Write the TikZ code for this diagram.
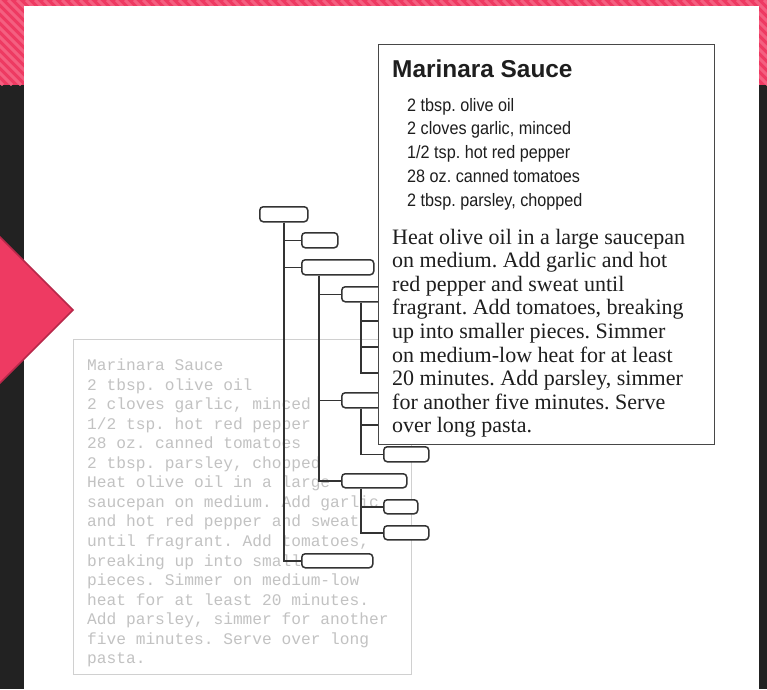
\documentclass[tikz,border=0pt]{standalone}
\usepackage{fontspec}
\setmainfont{Liberation Serif}
\newfontfamily\titlefont{Liberation Sans}
\newfontfamily\narrowfont[FakeStretch=0.9]{Liberation Sans}
\newfontfamily\greymono{Liberation Mono}
\usetikzlibrary{calc}
\definecolor{bandpink}{HTML}{EE3A62}
\definecolor{stripepink}{HTML}{F45F80}
\definecolor{darkbg}{HTML}{222222}
\definecolor{diamondedge}{HTML}{B8284A}
\definecolor{treecol}{HTML}{333333}
\definecolor{ghost}{HTML}{C2C2C2}
\definecolor{ghostedge}{HTML}{D0D0D0}
\definecolor{inkcol}{HTML}{1E1E1E}
\frenchspacing
\begin{document}
\frenchspacing
\begin{tikzpicture}[x=1pt,y=-1pt,
  tbox/.style={draw=treecol,line width=1.5pt,rounded corners=3.5pt,fill=white,inner sep=0pt,anchor=north west},
  tline/.style={draw=treecol,line width=1.5pt},
  monoline/.style={anchor=base west,inner sep=0pt,text=ghost,font=\greymono\frenchspacing\fontsize{16.2}{18}\selectfont},
  ingline/.style={anchor=base west,inner sep=0pt,text=inkcol,font=\narrowfont\frenchspacing\fontsize{18}{20}\selectfont},
  paraline/.style={anchor=base west,inner sep=0pt,text=inkcol,font=\frenchspacing\fontsize{22}{24}\selectfont},
]
\useasboundingbox (0,0) rectangle (767,689);
\clip (0,0) rectangle (767,689);
% background
\fill[darkbg] (0,0) rectangle (767,689);
\fill[bandpink] (0,0) rectangle (767,85);
\begin{scope}
  \clip (0,0) rectangle (767,85);
  \foreach \s in {-100,-91,...,860} \draw[stripepink,line width=3pt] (\s,0) -- ++(85,85);
\end{scope}
% page
\fill[white] (24,6) rectangle (759,700);
% diamond
\draw[fill=bandpink,draw=diamondedge,line width=1.5pt] (73,310) -- (0,237) -- (-73,310) -- (0,383) -- cycle;
% ghost plain-text box
\node[draw=ghostedge,line width=1.2pt,fill=white,inner sep=0pt,anchor=north west,minimum width=338pt,minimum height=335pt] (ghostbox) at (73,339) {};
\foreach \t [count=\i from 0] in {{Marinara Sauce},{2 tbsp. olive oil},{2 cloves garlic, minced},{1/2 tsp. hot red pepper},{28 oz. canned tomatoes},{2 tbsp. parsley, chopped},{Heat olive oil in a large},{saucepan on medium. Add garlic},{and hot red pepper and sweat},{until fragrant. Add tomatoes,},{breaking up into small},{pieces. Simmer on medium-low},{heat for at least 20 minutes.},{Add parsley, simmer for another},{five minutes. Serve over long},{pasta.}}
  \node[monoline] (g\i) at (87,{370.5+19.55*\i}) {\t};
% tree boxes
\node[tbox,minimum width=48pt,minimum height=15pt] (A) at (259,206) {};
\node[tbox,minimum width=36pt,minimum height=15pt] (B) at (301,232) {};
\node[tbox,minimum width=72pt,minimum height=15pt] (C) at (301,259) {};
\node[tbox,minimum width=60pt,minimum height=15pt] (D) at (341,286) {};
\node[tbox,minimum width=60pt,minimum height=15pt] (E) at (341,392) {};
\node[tbox,minimum width=45pt,minimum height=15pt] (F) at (383,446) {};
\node[tbox,minimum width=65pt,minimum height=14pt] (G) at (341,473) {};
\node[tbox,minimum width=34pt,minimum height=14pt] (H) at (383,499) {};
\node[tbox,minimum width=45pt,minimum height=14pt] (I) at (383,525) {};
\node[tbox,minimum width=71pt,minimum height=14pt] (J) at (301,553) {};
% trunk points and hidden ends
\path (A.south west) ++(25,0) coordinate (at);
\path (C.south west) ++(18,0) coordinate (ct);
\path (D.south west) ++(20,0) coordinate (dt);
\path (E.south west) ++(20,0) coordinate (et);
\path (G.south west) ++(20,0) coordinate (gt);
\coordinate (d1) at (380,321);
\coordinate (d2) at (380,347);
\coordinate (d3) at (380,373);
\coordinate (e1) at (380,425);
% connectors
\draw[tline] (at) |- (B.west);
\draw[tline] (at) |- (C.west);
\draw[tline] (at) |- (J.west);
\draw[tline] (ct) |- (D.west);
\draw[tline] (ct) |- (E.west);
\draw[tline] (ct) |- (G.west);
\draw[tline] (dt) |- (d1);
\draw[tline] (dt) |- (d2);
\draw[tline] (dt) |- (d3);
\draw[tline] (et) |- (e1);
\draw[tline] (et) |- (F.west);
\draw[tline] (gt) |- (H.west);
\draw[tline] (gt) |- (I.west);
% recipe card
\node[draw=treecol!90,line width=1.2pt,fill=white,inner sep=0pt,anchor=north west,minimum width=336pt,minimum height=400pt] (card) at (378,44) {};
\node[anchor=base west,inner sep=0pt,text=inkcol,font=\titlefont\bfseries\fontsize{24.4}{28}\selectfont] (title) at (392,77) {Marinara Sauce};
\foreach \t [count=\i from 0] in {{2 tbsp. olive oil},{2 cloves garlic, minced},{1/2 tsp. hot red pepper},{28 oz. canned tomatoes},{2 tbsp. parsley, chopped}}
  \node[ingline] (ing\i) at (407,{111+23.9*\i}) {\t};
\foreach \t [count=\i from 0] in {{Heat olive oil in a large saucepan},{on medium. Add garlic and hot},{red pepper and sweat until},{fragrant. Add tomatoes, breaking},{up into smaller pieces. Simmer},{on medium-low heat for at least},{20 minutes. Add parsley, simmer},{for another five minutes. Serve},{over long pasta.}}
  \node[paraline] (p\i) at (392,{244+23.6*\i}) {\t};
\end{tikzpicture}
\end{document}
